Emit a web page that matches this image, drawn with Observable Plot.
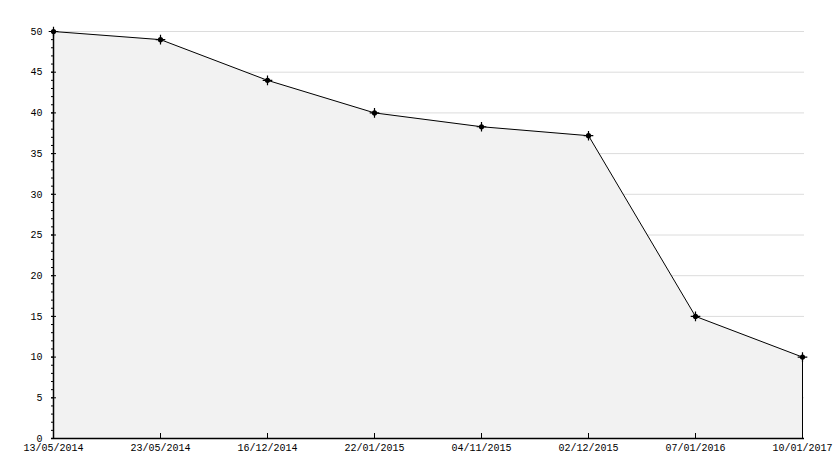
<!DOCTYPE html>
<html>
<head>
<meta charset="utf-8">
<script src="https://cdn.jsdelivr.net/npm/d3@7"></script>
<script src="https://cdn.jsdelivr.net/npm/@observablehq/plot@0.6"></script>
<style>
  html, body { margin: 0; padding: 0; background: #fff; }
</style>
</head>
<body>
<div id="chart"></div>
<script>
const dates = ["13/05/2014", "23/05/2014", "16/12/2014", "22/01/2015", "04/11/2015", "02/12/2015", "07/01/2016", "10/01/2017"];
const values = [50, 49, 44, 40, 38.3, 37.2, 15, 10];
const majorTicks = [0, 5, 10, 15, 20, 25, 30, 35, 40, 45, 50];
const minorTicks = d3.range(0, 51, 1);

const data = dates.map((d, i) => ({date: d, value: values[i]}));

const chart = Plot.plot({
  width: 834,
  height: 468,
  marginLeft: 51,
  marginRight: 30,
  marginTop: 31,
  marginBottom: 30,
  style: {fontFamily: "'Liberation Mono', 'DejaVu Sans Mono', monospace", fontSize: "10px", background: "#fff", color: "#000"},
  x: {type: "point", domain: dates, padding: 0, label: null},
  y: {domain: [0, 50], label: null},
  marks: [
    Plot.gridY(majorTicks.filter(t => t > 0), {stroke: "#dcdcdc", strokeOpacity: 1}),
    Plot.areaY(data, {x: "date", y: "value", fill: "#f2f2f2", curve: "linear"}),
    Plot.ruleX([dates[dates.length - 1]], {y1: 0, y2: values[values.length - 1], stroke: "#000"}),
    Plot.lineY(data, {x: "date", y: "value", stroke: "#000", strokeWidth: 1}),
    Plot.dot(data, {x: "date", y: "value", r: 2.6, fill: "#000"}),
    Plot.dot(data, {x: "date", y: "value", r: 3.2, symbol: "plus", stroke: "#000", strokeWidth: 1.2}),
    Plot.axisY(minorTicks, {tickSize: -3, text: null, stroke: "#000", label: null}),
    Plot.axisY(majorTicks, {tickSize: -5, text: null, stroke: "#000", label: null}),
    Plot.axisY(majorTicks, {tickSize: 0, tickPadding: 9, fill: "#000", label: null}),
    Plot.axisX(dates, {tickSize: -5, text: null, stroke: "#000", label: null}),
    Plot.axisX(dates, {tickSize: 0, tickPadding: 5, fill: "#000", label: null}),
    Plot.ruleX([dates[0]], {y1: 0, y2: 50, stroke: "#000", strokeWidth: 1.5}),
    Plot.ruleY([0], {stroke: "#000", strokeWidth: 1.5})
  ]
});
document.getElementById("chart").appendChild(chart);
</script>
</body>
</html>
